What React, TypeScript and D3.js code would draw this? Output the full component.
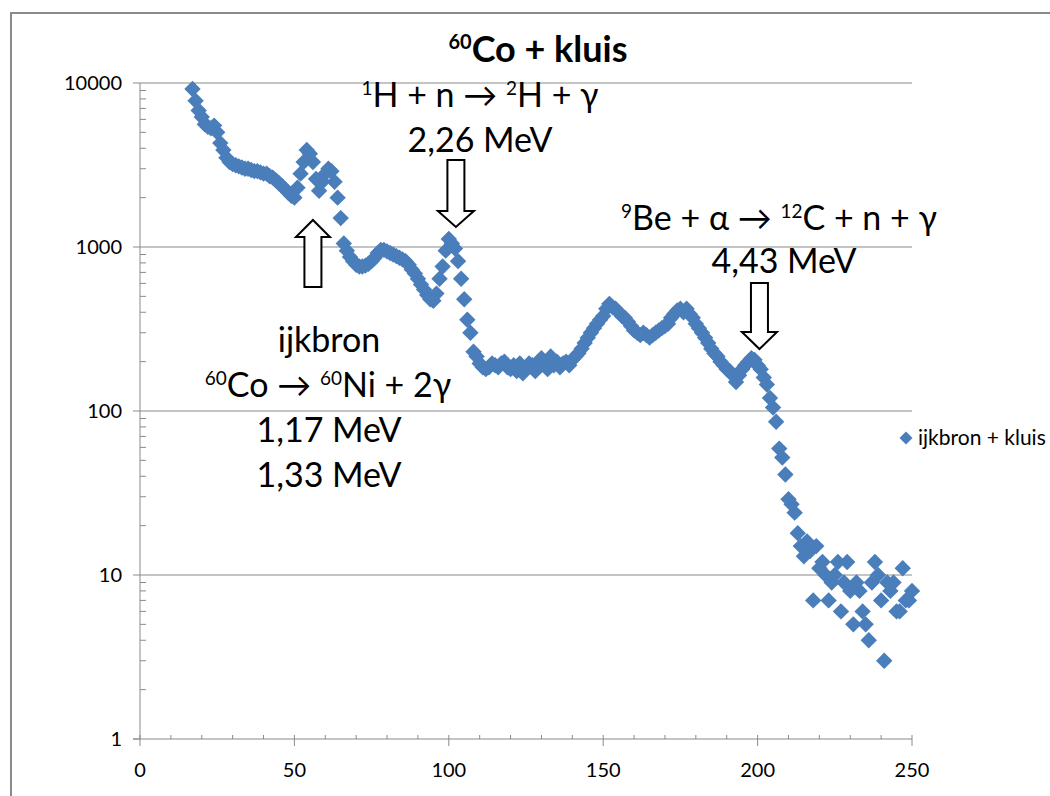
import React from "react";
import * as d3 from "d3";

// Channel numbers (x) and counts (y)
const channels = [
  17, 18, 19, 20, 21, 22, 23, 24, 25, 26, 27, 28, 29, 30, 31, 32, 33, 34, 35, 36,
  37, 38, 39, 40, 41, 42, 43, 44, 45, 46, 47, 48, 49, 50, 51, 52, 53, 54, 55, 56,
  57, 58, 59, 60, 61, 62, 63, 64, 65, 66, 67, 68, 69, 70, 71, 72, 73, 74, 75, 76,
  77, 78, 79, 80, 81, 82, 83, 84, 85, 86, 87, 88, 89, 90, 91, 92, 93, 94, 95, 96,
  97, 98, 99, 100, 101, 102, 103, 104, 105, 106, 107, 108, 109, 110, 111, 112, 113, 114, 115, 116,
  117, 118, 119, 120, 121, 122, 123, 124, 125, 126, 127, 128, 129, 130, 131, 132, 133, 134, 135, 136,
  137, 138, 139, 140, 141, 142, 143, 144, 145, 146, 147, 148, 149, 150, 151, 152, 153, 154, 155, 156,
  157, 158, 159, 160, 161, 162, 163, 164, 165, 166, 167, 168, 169, 170, 171, 172, 173, 174, 175, 176,
  177, 178, 179, 180, 181, 182, 183, 184, 185, 186, 187, 188, 189, 190, 191, 192, 193, 194, 195, 196,
  197, 198, 199, 200, 201, 202, 203, 204, 205, 206, 207, 208, 209, 210, 211, 212, 213, 214, 215, 216,
  217, 218, 219, 220, 221, 222, 223, 224, 225, 226, 227, 228, 229, 230, 231, 232, 233, 234, 235, 236,
  237, 238, 239, 240, 241, 242, 243, 244, 245, 246, 247, 248, 249, 250,
];

const counts = [
  9200, 7800, 6800, 6200, 5600, 5400, 5300, 5500, 5000, 4300, 3900, 3500, 3300, 3200, 3150, 3100, 3050, 3000, 3000, 2950,
  2900, 2900, 2850, 2800, 2800, 2700, 2650, 2550, 2450, 2350, 2250, 2150, 2050, 2000, 2300, 2800, 3300, 3900, 3700, 3300,
  2600, 2200, 2500, 2800, 3000, 2900, 2500, 2000, 1500, 1050, 950, 870, 820, 780, 760, 760, 770, 790, 820, 860,
  920, 960, 960, 940, 920, 900, 880, 860, 840, 820, 780, 730, 690, 640, 590, 550, 510, 480, 470, 520,
  640, 760, 950, 1120, 1050, 980, 820, 640, 480, 360, 300, 230, 215, 195, 185, 180, 185, 195, 190, 185,
  195, 200, 185, 180, 190, 175, 195, 170, 185, 195, 190, 175, 200, 210, 195, 180, 215, 190, 200, 185,
  195, 200, 190, 205, 215, 225, 240, 260, 280, 300, 320, 340, 360, 380, 420, 450, 430, 420, 400, 380,
  370, 350, 330, 310, 300, 290, 300, 290, 280, 290, 300, 310, 320, 330, 340, 370, 390, 410, 420, 400,
  420, 390, 370, 340, 320, 300, 280, 260, 240, 225, 215, 200, 190, 180, 175, 165, 150, 165, 180, 190,
  200, 210, 205, 190, 180, 160, 145, 120, 105, 86, 59, 52, 41, 29, 27, 24, 18, 15, 13, 16,
  14, 7, 15, 11, 12, 10, 7, 9, 10, 12, 6, 9, 12, 8, 5, 9, 8, 6, 5, 4,
  9, 12, 10, 7, 3, 9, 8, 9, 6, 6, 11, 7, 7, 8,
];

const xTicks = [0, 50, 100, 150, 200, 250];
const xMinorTicks = [10, 20, 30, 40, 60, 70, 80, 90, 110, 120, 130, 140, 160, 170, 180, 190, 210, 220, 230, 240];
const yTicks = [1, 10, 100, 1000, 10000];
const yMinorTicks = [2, 3, 4, 5, 6, 7, 8, 9, 20, 30, 40, 50, 60, 70, 80, 90, 200, 300, 400, 500, 600, 700, 800, 900, 2000, 3000, 4000, 5000, 6000, 7000, 8000, 9000];

const seriesName = "ijkbron + kluis";
// arrow channel positions (x in data units)
const arrowUpX = 56;
const arrowDown1X = 102.3;
const arrowDown2X = 200.6;

const FONT = "Lato, 'Open Sans', sans-serif";
const BLUE = "#4A7EBB";
const GRID = "#8a8a8a";

function diamond(cx: number, cy: number, r: number) {
  return `M${cx},${cy - r}L${cx + r},${cy}L${cx},${cy + r}L${cx - r},${cy}Z`;
}

function blockArrow(cx: number, yTail: number, yHeadBase: number, yTip: number, shaftHalf: number, headHalf: number) {
  return [
    [cx - shaftHalf, yTail],
    [cx + shaftHalf, yTail],
    [cx + shaftHalf, yHeadBase],
    [cx + headHalf, yHeadBase],
    [cx, yTip],
    [cx - headHalf, yHeadBase],
    [cx - shaftHalf, yHeadBase],
  ]
    .map((p) => p.join(","))
    .join(" ");
}

export default function App() {
  const W = 1050;
  const H = 796;
  const left = 140;
  const right = 912;
  const top = 83;
  const bottom = 739;

  const x = d3.scaleLinear().domain([0, 250]).range([left, right]);
  const y = d3.scaleLog().domain([1, 10000]).range([bottom, top]);

  const data = channels.map((c, i) => ({ c, v: counts[i] }));

  return (
    <svg
      width={W}
      height={H}
      style={{ position: "absolute", left: 0, top: 0, background: "#fff" }}
      fontFamily={FONT}
    >
      <rect x={0} y={0} width={W} height={H} fill="#fff" />
      {/* chart border */}
      <rect x={11} y={13} width={W + 20} height={H + 20} fill="none" stroke={GRID} strokeWidth={2} />

      {/* title */}
      <text x={538} y={62} textAnchor="middle" fontWeight="bold" fontSize={36} fill="#000">
        <tspan fontSize={20} dy={-13}>60</tspan>
        <tspan dy={13}>Co + kluis</tspan>
      </text>

      {/* gridlines */}
      {yTicks.filter((t) => t > 1).map((t) => (
        <line key={"g" + t} x1={left} x2={right} y1={y(t)} y2={y(t)} stroke={GRID} strokeWidth={1} />
      ))}

      {/* y axis */}
      <line x1={left} x2={left} y1={top} y2={bottom} stroke={GRID} strokeWidth={1} />
      {yTicks.map((t) => (
        <line key={"yt" + t} x1={left - 7} x2={left} y1={y(t)} y2={y(t)} stroke={GRID} strokeWidth={1} />
      ))}
      {yMinorTicks.map((t) => (
        <line key={"ym" + t} x1={left} x2={left + 6} y1={y(t)} y2={y(t)} stroke={GRID} strokeWidth={1} />
      ))}
      {yTicks.map((t) => (
        <text key={"yl" + t} x={122} y={y(t) + 7} textAnchor="end" fontSize={20} fill="#000">
          {String(t)}
        </text>
      ))}

      {/* x axis */}
      <line x1={left - 7} x2={right} y1={bottom} y2={bottom} stroke={GRID} strokeWidth={1} />
      {xTicks.map((t) => (
        <line key={"xt" + t} x1={x(t)} x2={x(t)} y1={bottom - 4} y2={bottom + 7} stroke={GRID} strokeWidth={1} />
      ))}
      {xMinorTicks.map((t) => (
        <line key={"xm" + t} x1={x(t)} x2={x(t)} y1={bottom - 4} y2={bottom} stroke={GRID} strokeWidth={1} />
      ))}
      {xTicks.map((t) => (
        <text key={"xl" + t} x={x(t)} y={777} textAnchor="middle" fontSize={20} fill="#000">
          {String(t)}
        </text>
      ))}

      {/* data */}
      {data.map((d) => (
        <path key={"p" + d.c} d={diamond(x(d.c), y(d.v), 8.2)} fill={BLUE} />
      ))}

      {/* annotations */}
      <g fill="#000" fontSize={34}>
        <text x={480} y={107} textAnchor="middle">
          <tspan fontSize={19} dy={-12}>1</tspan>
          <tspan dy={12}>H + n → </tspan>
          <tspan fontSize={19} dy={-12}>2</tspan>
          <tspan dy={12}>H + γ</tspan>
        </text>
        <text x={480} y={152} textAnchor="middle">2,26 MeV</text>

        <text x={779} y={230} textAnchor="middle">
          <tspan fontSize={19} dy={-12}>9</tspan>
          <tspan dy={12}>Be + α → </tspan>
          <tspan fontSize={19} dy={-12}>12</tspan>
          <tspan dy={12}>C + n + γ</tspan>
        </text>
        <text x={784} y={273} textAnchor="middle">4,43 MeV</text>

        <text x={329} y={352} textAnchor="middle">ijkbron</text>
        <text x={328} y={397} textAnchor="middle">
          <tspan fontSize={19} dy={-12}>60</tspan>
          <tspan dy={12}>Co → </tspan>
          <tspan fontSize={19} dy={-12}>60</tspan>
          <tspan dy={12}>Ni + 2γ</tspan>
        </text>
        <text x={329} y={442} textAnchor="middle">1,17 MeV</text>
        <text x={329} y={487} textAnchor="middle">1,33 MeV</text>
      </g>

      {/* block arrows */}
      <g fill="#fff" stroke="#000" strokeWidth={2} strokeLinejoin="miter">
        <polygon points={blockArrow(x(arrowUpX), 287, 237, 220, 8.5, 17)} />
        <polygon points={blockArrow(x(arrowDown1X), 160, 211, 227, 8.5, 18)} />
        <polygon points={blockArrow(x(arrowDown2X), 283, 332, 349, 8.5, 17.5)} />
      </g>

      {/* legend */}
      <path d={diamond(906, 438, 6.5)} fill={BLUE} />
      <text x={918} y={445} fontSize={21} fill="#000">{seriesName}</text>
    </svg>
  );
}
